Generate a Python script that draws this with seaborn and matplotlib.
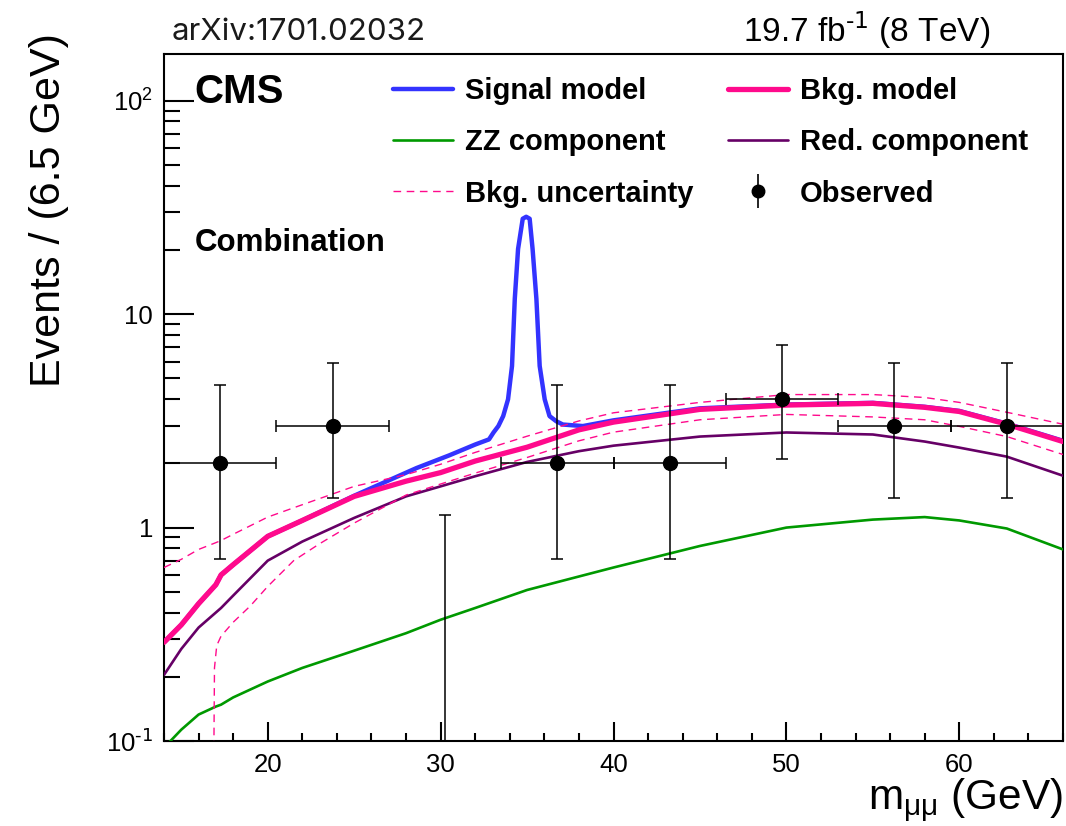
import numpy as np
import pandas as pd
import matplotlib
matplotlib.use("Agg")
import matplotlib.pyplot as plt
import seaborn as sns
from matplotlib.lines import Line2D
from matplotlib.ticker import FixedLocator, FixedFormatter, MultipleLocator, LogLocator, NullFormatter
from matplotlib.legend_handler import HandlerTuple

# ---------------- data ----------------
mass_grid = [14, 15, 16, 17, 17.3, 18, 20, 22, 25, 28, 30, 32, 35, 38, 40, 45, 50, 55, 58, 60, 62.75, 66]
bkg_model = [0.29, 0.35, 0.44, 0.54, 0.60, 0.67, 0.91, 1.08, 1.40, 1.65, 1.81, 2.05, 2.38, 2.87, 3.12,
             3.58, 3.75, 3.82, 3.66, 3.50, 3.05, 2.53]
red_component = [0.204, 0.27, 0.34, 0.40, 0.42, 0.48, 0.70, 0.86, 1.11, 1.40, 1.56, 1.74, 2.03, 2.28, 2.42,
                 2.67, 2.79, 2.73, 2.53, 2.37, 2.15, 1.75]
zz_component = [0.093, 0.113, 0.133, 0.145, 0.148, 0.16, 0.19, 0.22, 0.265, 0.32, 0.37, 0.42, 0.51, 0.59, 0.65,
                0.82, 1.00, 1.09, 1.12, 1.08, 0.99, 0.79]
bkg_unc_up = [0.65, 0.71, 0.79, 0.85, 0.87, 0.93, 1.12, 1.28, 1.56, 1.77, 1.98, 2.25, 2.68, 3.16, 3.45,
              3.86, 4.20, 4.20, 4.07, 3.86, 3.47, 3.05]

lo_grid = [16.88, 16.92, 17.05, 17.3, 18, 19, 20, 21.5, 23, 25, 28, 30, 32, 35, 38, 40, 45, 50, 55, 58, 60, 62.75, 66]
bkg_unc_down = [0.08, 0.22, 0.28, 0.31, 0.36, 0.43, 0.53, 0.70, 0.84, 1.05, 1.42, 1.60, 1.80, 2.13, 2.55, 2.80,
                3.20, 3.39, 3.30, 3.20, 2.98, 2.67, 2.20]

sig_grid = [14, 15, 16, 17, 17.3, 18, 20, 22, 25, 28.6, 30.5, 32.0, 32.8, 33.06, 33.34, 33.62, 33.9, 34.13,
            34.29, 34.48, 34.75, 34.95, 35.15, 35.32, 35.54, 35.73, 36.02, 36.3, 36.69, 37.07, 38.23, 40, 45,
            50, 55, 58, 60, 62.75, 66]
signal_model = [0.29, 0.35, 0.44, 0.54, 0.60, 0.67, 0.91, 1.08, 1.41, 1.90, 2.18, 2.45, 2.59, 2.79, 2.99,
                3.33, 3.99, 5.72, 11.8, 20.2, 28.0, 28.6, 28.0, 20.2, 11.8, 5.72, 3.99, 3.33, 3.15, 3.04,
                2.99, 3.18, 3.62, 3.77, 3.84, 3.68, 3.52, 3.07, 2.55]

obs_mass = [17.25, 23.75, 30.25, 36.75, 43.25, 49.75, 56.25, 62.75]
obs_events = [2, 3, 0, 2, 2, 4, 3, 3]
obs_err_down = [1.29, 1.63, 0.0, 1.29, 1.29, 1.91, 1.63, 1.63]
obs_err_up = [2.64, 2.92, 1.15, 2.64, 2.64, 3.16, 2.92, 2.92]
obs_bin_half = [3.25, 3.25, 3.25, 3.25, 3.25, 3.25, 3.25, 3.25]

ytick_vals = [0.1, 1, 10, 100]
ytick_labels = [r"10$^{\text{-1}}$", "1", "10", "10$^{2}$"]

legend_labels = ["Signal model", "ZZ component", "Bkg. uncertainty",
                 "Bkg. model", "Red. component", "Observed"]

# ---------------- style ----------------
sns.set_theme(style="ticks")
plt.rcParams["font.family"] = ["Liberation Sans", "DejaVu Sans"]
plt.rcParams["mathtext.default"] = "regular"
plt.rcParams["axes.unicode_minus"] = False
plt.rcParams["axes.linewidth"] = 1.5
plt.rcParams["text.color"] = "black"
plt.rcParams["axes.labelcolor"] = "black"
plt.rcParams["xtick.color"] = "black"
plt.rcParams["ytick.color"] = "black"

BLUE = "#3333ff"
PINK = "#ff0a8c"
GREEN = "#009900"
PURPLE = "#660066"

fig = plt.figure(figsize=(10.66, 8.26), dpi=100)
ax = fig.add_axes([164 / 1066, 1 - 741 / 826, 899 / 1066, 687 / 826])
ax.set_yscale("log")

curves = pd.DataFrame({"m": mass_grid, "bkg": bkg_model, "red": red_component,
                       "zz": zz_component, "up": bkg_unc_up})
lower = pd.DataFrame({"m": lo_grid, "down": bkg_unc_down})
sig = pd.DataFrame({"m": sig_grid, "sig": signal_model})

dash = (0, (5.5, 4.0))

sns.lineplot(data=sig, x="m", y="sig", ax=ax, color=BLUE, lw=3.2, estimator=None, sort=False, zorder=2)
h_sig = ax.lines[-1]
sns.lineplot(data=curves, x="m", y="zz", ax=ax, color=GREEN, lw=1.9, estimator=None, sort=False, zorder=3)
h_zz = ax.lines[-1]
sns.lineplot(data=curves, x="m", y="red", ax=ax, color=PURPLE, lw=1.9, estimator=None, sort=False, zorder=3)
h_red = ax.lines[-1]
sns.lineplot(data=curves, x="m", y="up", ax=ax, color=PINK, lw=1.0, linestyle=dash, estimator=None,
             sort=False, zorder=3)
h_unc = ax.lines[-1]
sns.lineplot(data=lower, x="m", y="down", ax=ax, color=PINK, lw=1.0, linestyle=dash, estimator=None,
             sort=False, zorder=3)
sns.lineplot(data=curves, x="m", y="bkg", ax=ax, color=PINK, lw=3.8, estimator=None, sort=False, zorder=4)
h_bkg = ax.lines[-1]

ax.errorbar(obs_mass, obs_events, yerr=[obs_err_down, obs_err_up], xerr=obs_bin_half,
            fmt="o", color="black", ms=10, elinewidth=1.1, capsize=4, capthick=1.1, zorder=6)

h_obs = (Line2D([], [], marker="|", color="black", ms=24, mew=1.2, ls="none"),
         Line2D([], [], marker="o", color="black", ms=9, ls="none"))

# ---------------- axes ----------------
ax.set_xlim(14, 66)
ax.set_ylim(0.1, 165.6)
ax.xaxis.set_major_locator(MultipleLocator(10))
ax.xaxis.set_minor_locator(MultipleLocator(2))
ax.yaxis.set_major_locator(FixedLocator(ytick_vals))
ax.yaxis.set_major_formatter(FixedFormatter(ytick_labels))
ax.yaxis.set_minor_locator(LogLocator(base=10, subs=np.arange(2, 10)))
ax.yaxis.set_minor_formatter(NullFormatter())

ax.tick_params(axis="both", which="both", direction="in", top=False, right=False, width=1.5,
               colors="black", labelsize=18.5)
ax.tick_params(axis="y", which="major", length=21.6, pad=8)
ax.tick_params(axis="y", which="minor", length=11.5)
ax.tick_params(axis="x", which="major", length=13.7, pad=9)
ax.tick_params(axis="x", which="minor", length=5.8)
for s in ax.spines.values():
    s.set_visible(True)
    s.set_color("black")
    s.set_linewidth(1.5)

ax.set_xlabel(r"m$_{μμ}$ (GeV)", fontsize=30.5, loc="right", color="black")
ax.xaxis.set_label_coords(1.0, -0.052)
ax.set_ylabel("Events / (6.5 GeV)", fontsize=31, loc="top", color="black")
ax.yaxis.set_label_coords(-0.106, 1.030)

# ---------------- texts ----------------
ax.text(0.034, 0.972, "CMS", transform=ax.transAxes, fontsize=29, fontweight="bold", va="top", ha="left")
ax.text(0.034, 0.747, "Combination", transform=ax.transAxes, fontsize=22.5, fontweight="bold",
        va="top", ha="left")
fig.text(172 / 1066, 1 - 40 / 826, "arXiv:1701.02032", fontsize=22.5, family=["Inter", "DejaVu Sans"],
         color="#1a1a1a", ha="left", va="baseline")
fig.text(990 / 1066, 1 - 42 / 826, r"19.7 fb$^{\text{-1}}$ (8 TeV)", fontsize=24, ha="right", va="baseline")

handles = [h_sig, h_zz, h_unc, h_bkg, h_red, h_obs]
leg = ax.legend(handles, legend_labels, ncol=2, loc="upper left", bbox_to_anchor=(0.2547, 0.9665),
                frameon=False, borderpad=0, borderaxespad=0, handlelength=2.05, handletextpad=0.41,
                columnspacing=1.2, labelspacing=0.8, prop={"size": 21, "weight": "bold"},
                handler_map={tuple: HandlerTuple(ndivide=1)})
for t in leg.get_texts():
    t.set_color("black")

fig.savefig("out.png", dpi=100)
